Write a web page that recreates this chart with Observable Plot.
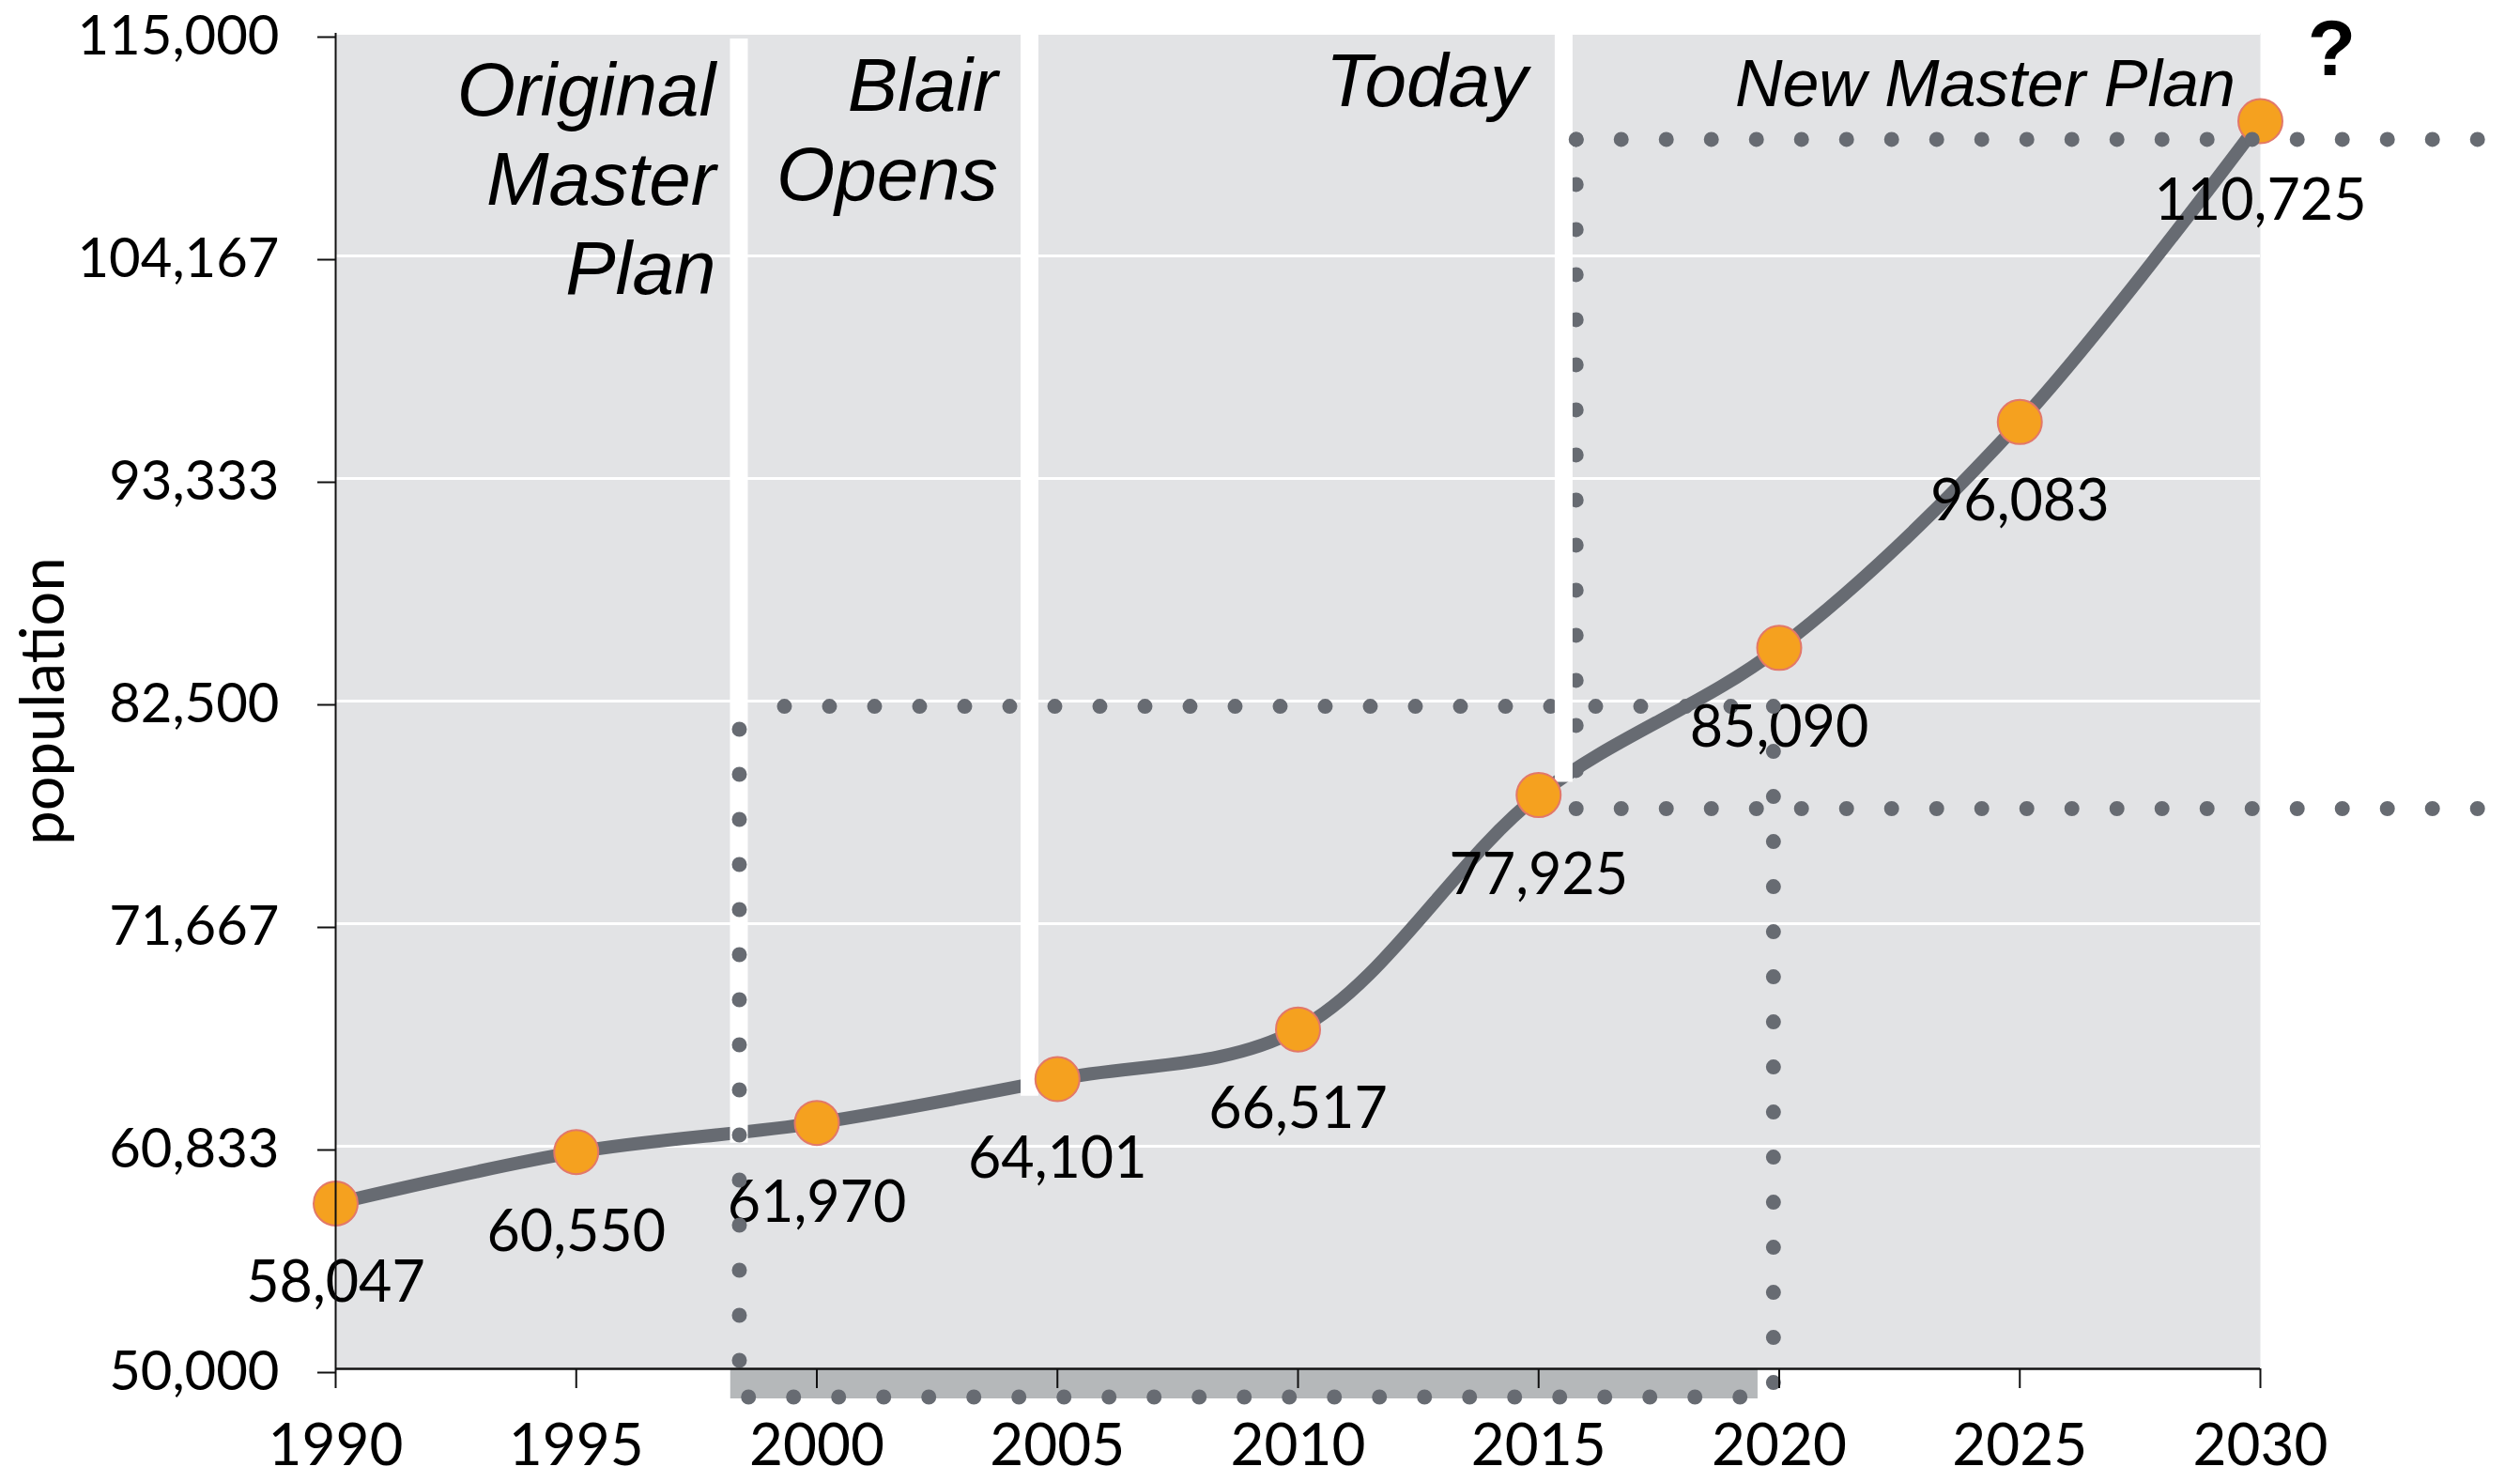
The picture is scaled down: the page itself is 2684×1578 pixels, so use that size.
<!DOCTYPE html>
<html>
<head>
<meta charset="utf-8">
<script src="https://cdn.jsdelivr.net/npm/d3@7"></script>
<script src="https://cdn.jsdelivr.net/npm/@observablehq/plot@0.6"></script>
<style>
  html, body { margin: 0; padding: 0; background: #ffffff; overflow: hidden; }
</style>
</head>
<body>
<div id="chart"></div>
<script>
// ---- data ----
const years = [1990, 1995, 2000, 2005, 2010, 2015, 2020, 2025, 2030];
const population = [58047, 60550, 61970, 64101, 66517, 77925, 85090, 96083, 110725];

const xTicks = [1990, 1995, 2000, 2005, 2010, 2015, 2020, 2025, 2030];
const yTicks = [50000, 60833.33, 71666.67, 82500, 93333.33, 104166.67, 115000];
const yTickLabels = ["50,000", "60,833", "71,667", "82,500", "93,333", "104,167", "115,000"];
const yLabel = "population";

// milestone annotations (year of right edge, population at last baseline)
const milestoneText = ["Original\nMaster\nPlan", "Blair\nOpens", "Today", "New Master Plan"];
const milestoneYear = [1997.9, 2003.76, 2014.77, 2029.48];
const milestoneValue = [102300, 106870, 111480, 111437];

// white divider bars (year, from population, to population)
const dividerYear = [1998.38, 2004.42, 2015.52];
const dividerFrom = [60980, 63270, 78545];
const dividerTo = [114730, 115000, 115000];

// dotted guide segments
const guideName = ["A", "B", "C", "D", "E", "F", "G"];
const guideYear1 = [1998.39, 1998.39, 2019.88, 2015.78, 2015.78, 2015.78, 1998.58];
const guideValue1 = [50411, 82245, 82245, 77266, 109838, 109838, 48630];
const guideYear2 = [1998.39, 2019.88, 2019.88, 2035.4, 2035.4, 2015.78, 2019.25];
const guideValue2 = [82245, 82245, 49180, 77266, 109838, 77266, 48630];

// shaded band below the axis
const bandYear = [1998.21, 2019.56];
const bandValue = [48538, 50000];

// question mark
const questionText = ["?"];
const questionYear = [2031.48];
const questionValue = [112944];

// ---- derived tables ----
const points = years.map((year, i) => ({year, population: population[i]}));
const milestones = milestoneText.map((text, i) => ({text, year: milestoneYear[i], value: milestoneValue[i]}));
const dividers = dividerYear.map((year, i) => ({year, from: dividerFrom[i], to: dividerTo[i]}));
const guides = guideName.map((name, i) => ({name, x1: guideYear1[i], y1: guideValue1[i], x2: guideYear2[i], y2: guideValue2[i]}));
const band = [{x1: bandYear[0], x2: bandYear[1], y1: bandValue[0], y2: bandValue[1]}];
const question = questionText.map((text, i) => ({text, year: questionYear[i], value: questionValue[i]}));

const DOT = "#676b72";
const dotted = {stroke: DOT, strokeWidth: 16, strokeDasharray: "0 48", strokeLinecap: "round"};
const pick = (names) => guides.filter(g => names.includes(g.name));

const chart = Plot.plot({
  width: 2684,
  height: 1578,
  marginLeft: 357,
  marginRight: 277,
  marginTop: 35,
  marginBottom: 121,
  style: {fontFamily: "Lato, 'Open Sans', sans-serif", background: "#ffffff", color: "#000000"},
  x: {domain: [1990, 2030]},
  y: {domain: [50000, 115000]},
  marks: [
    Plot.frame({fill: "#e2e3e5", stroke: null}),
    Plot.ruleY(yTicks, {stroke: "#ffffff", strokeWidth: 3}),
    Plot.rect(band, {x1: "x1", x2: "x2", y1: "y1", y2: "y2", fill: "#b5b8ba"}),
    Plot.link(pick(["B", "D", "F"]), {x1: "x1", y1: "y1", x2: "x2", y2: "y2", ...dotted}),
    Plot.line(points, {x: "year", y: "population", curve: "catmull-rom", stroke: "#676b72", strokeWidth: 14, strokeLinecap: "round"}),
    Plot.ruleX(dividers, {x: "year", y1: "from", y2: "to", stroke: "#ffffff", strokeWidth: 19}),
    Plot.text(points, {x: "year", y: "population", text: d => d3.format(",")(d.population), fontSize: 61, lineAnchor: "bottom", dy: 105, fill: "#000000"}),
    Plot.text(milestones.slice(0, 3), {x: "year", y: "value", text: "text", textAnchor: "end", lineAnchor: "bottom", lineHeight: 1.19, fontSize: 80, fontStyle: "italic", fontFamily: "'Liberation Sans', Arial, sans-serif", fill: "#000000"}),
    Plot.text(milestones.slice(3), {x: "year", y: "value", text: "text", textAnchor: "end", lineAnchor: "bottom", fontSize: 70, fontStyle: "italic", fontFamily: "'Liberation Sans', Arial, sans-serif", fill: "#000000"}),
    Plot.link(pick(["A", "C", "G"]), {x1: "x1", y1: "y1", x2: "x2", y2: "y2", ...dotted}),
    Plot.dot(points, {x: "year", y: "population", r: 23.5, fill: "#f5a11f", stroke: "#e2786a", strokeWidth: 2}),
    Plot.link(pick(["E"]), {x1: "x1", y1: "y1", x2: "x2", y2: "y2", ...dotted}),
    Plot.ruleX([1990], {stroke: "#111111", strokeWidth: 2}),
    Plot.ruleY([50000], {stroke: "#111111", strokeWidth: 2.5}),
    Plot.axisY({ticks: yTicks, tickFormat: d => yTickLabels[yTicks.indexOf(d)], tickSize: 19, tickPadding: 41, fontSize: 58, dy: 4, label: null, stroke: "#111111", strokeWidth: 2}),
    Plot.axisX({ticks: xTicks, tickFormat: d => String(d), tickSize: 21, tickPadding: 37, fontSize: 62, label: null, stroke: "#111111", strokeWidth: 2}),
    Plot.text([yLabel], {frameAnchor: "left", textAnchor: "middle", dx: -310, rotate: -90, fontSize: 65, fill: "#000000"}),
    Plot.text(question, {x: "year", y: "value", text: "text", lineAnchor: "bottom", fontSize: 84, fontWeight: "bold", fontFamily: "'Liberation Sans', Arial, sans-serif", fill: "#000000"})
  ]
});

document.getElementById("chart").appendChild(chart);
</script>
</body>
</html>
